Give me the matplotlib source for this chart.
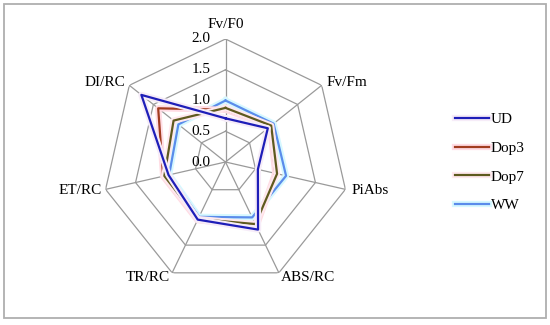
import numpy as np
import matplotlib
matplotlib.use("Agg")
import matplotlib.pyplot as plt
import matplotlib.patheffects as pe
from matplotlib.patches import Rectangle

categories = ["Fv/F0", "Fv/Fm", "PiAbs", "ABS/RC", "TR/RC", "ET/RC", "DI/RC"]
series_names = ["UD", "Dop3", "Dop7", "WW"]
ud = [0.71, 0.88, 0.54, 1.22, 1.04, 0.95, 1.75]
dop3 = [0.85, 0.93, 0.83, 1.16, 1.05, 1.04, 1.40]
dop7 = [0.88, 0.95, 0.86, 1.12, 1.03, 1.02, 1.08]
ww = [1.00, 1.00, 1.01, 1.00, 0.99, 0.94, 0.98]
ring_levels = [0.5, 1.0, 1.5, 2.0]
ring_labels = ["0.0", "0.5", "1.0", "1.5", "2.0"]
ring_label_values = [0.0, 0.5, 1.0, 1.5, 2.0]

colors = ["#1E1EB8", "#A23C20", "#5F5A1E", "#5A8CEB"]
glows = ["#F6ECF8", "#FFDCE4", "#FFE9EE", "#D6F8FF"]

plt.rcParams["font.family"] = ["Liberation Serif", "DejaVu Serif"]
FS = 11

W, H = 550, 325
fig = plt.figure(figsize=(W / 100, H / 100), dpi=100)
fig.patch.set_facecolor("white")
fig.patches.append(Rectangle((4 / W, 7 / H), 542 / W, 314 / H, transform=fig.transFigure,
                             fill=False, edgecolor="#AFAFAF", linewidth=1.3))

cx, cy, R = 225.5, 162.0, 123.0
ax = fig.add_axes([(cx - R) / W, (H - cy - R) / H, 2 * R / W, 2 * R / H], projection="polar")
ax.set_theta_zero_location("N")
ax.set_theta_direction(-1)
ax.set_ylim(0, 2.0)
ax.grid(False)
ax.spines["polar"].set_visible(False)
ax.set_xticks([])
ax.set_yticks([])
ax.patch.set_alpha(0)

n = len(categories)
angles = np.arange(n) * 2 * np.pi / n
closed = np.concatenate([angles, angles[:1]])

grid_color = "#9A9A9A"
for lv in ring_levels:
    ax.plot(closed, [lv] * (n + 1), color=grid_color, lw=0.9, zorder=1)
for a in angles:
    ax.plot([a, a], [0, 2.0], color=grid_color, lw=0.9, zorder=1)

data = [ud, dop3, dop7, ww]
lines = []
for name, vals, c, g, z in zip(series_names, data, colors, glows, [5, 4, 4.5, 3]):
    v = list(vals) + [vals[0]]
    ln, = ax.plot(closed, v, color=c, lw=1.6, label=name, zorder=z,
                  path_effects=[pe.Stroke(linewidth=4.5, foreground=g), pe.Normal()])
    lines.append(ln)

# radial labels
for lab, val in zip(ring_labels, ring_label_values):
    ax.annotate(lab, xy=(0, val), xytext=(-15, 0), textcoords="offset pixels",
                ha="right", va="center", fontsize=FS, zorder=6)

# category labels
offsets = [((0, 15), "center"), ((5, 3), "left"), ((6, -1), "left"), ((2, -5), "left"),
           ((-2, -5), "right"), ((-4, -1), "right"), ((-4, 3), "right")]
for a, lab, (off, ha) in zip(angles, categories, offsets):
    ax.annotate(lab, xy=(a, 2.0), xytext=off, textcoords="offset pixels",
                ha=ha, va="center", fontsize=FS, annotation_clip=False)

fig.legend(handles=lines, labels=series_names, loc="center left",
           bbox_to_anchor=(449 / W, 1 - 162.5 / H), frameon=False, fontsize=FS,
           handlelength=2.2, handletextpad=0.12, labelspacing=0.98, borderaxespad=0)

fig.savefig("out.png", dpi=100)
